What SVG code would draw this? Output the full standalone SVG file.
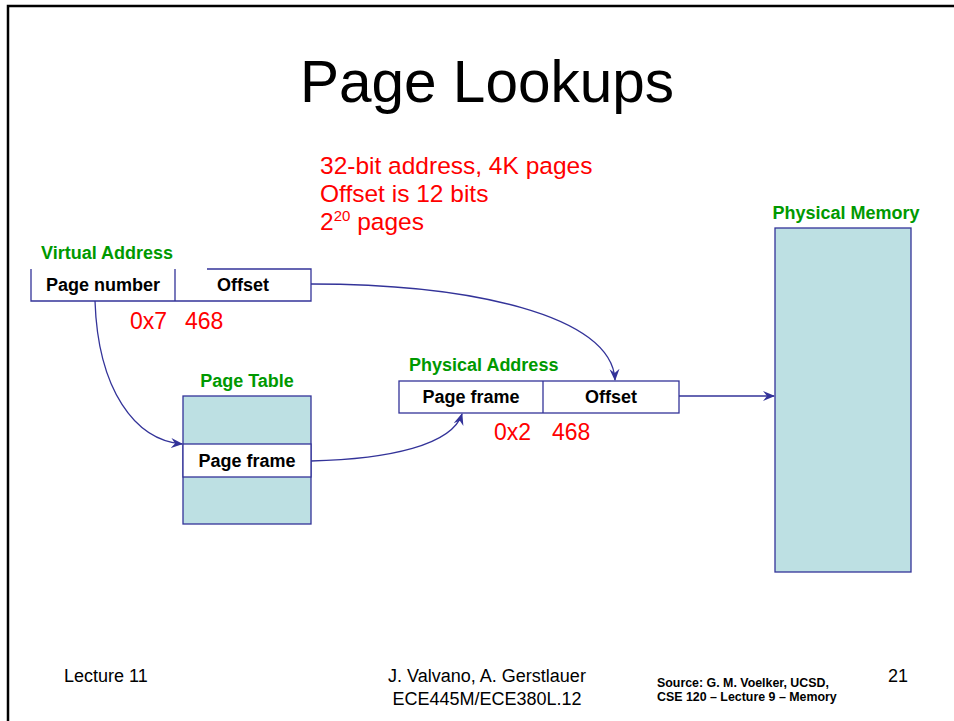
<svg xmlns="http://www.w3.org/2000/svg" width="954" height="721" viewBox="0 0 954 721">
<defs>
<style>
.ln{fill:none;stroke:#333399;stroke-width:1.3}
.cell{fill:#ffffff;stroke:#333399;stroke-width:1.3}
.mem{fill:#bde0e3;stroke:#333399;stroke-width:1.3}
.lbl{font-family:"Liberation Sans",Arial,sans-serif;font-weight:bold;font-size:18px;fill:#000}
.grn{font-family:"Liberation Sans",Arial,sans-serif;font-weight:bold;font-size:18px;fill:#009900}
.red{font-family:"Liberation Sans",Arial,sans-serif;font-size:23px;fill:#ff0000}
.big{font-size:24.5px}
.ft{font-family:"Liberation Sans",Arial,sans-serif;font-size:18px;fill:#000}
.src{font-family:"Liberation Sans",Arial,sans-serif;font-weight:bold;font-size:12.4px;fill:#000}
</style>
<marker id="ah" viewBox="0 0 12 10" refX="11" refY="5" markerWidth="12" markerHeight="10" markerUnits="userSpaceOnUse" orient="auto">
<path d="M0,0 L12,5 L0,10 L4,5 Z" fill="#333399"/>
</marker>
</defs>
<rect width="954" height="721" fill="#ffffff"/>
<path d="M8,721 L8,6 L954,6" fill="none" stroke="#000" stroke-width="2.5"/>
<text x="487" y="102" text-anchor="middle" font-family="'Liberation Sans',Arial,sans-serif" font-size="58.5" fill="#000">Page Lookups</text>
<g id="note">
<text class="red big" x="320" y="174">32-bit address, 4K pages</text>
<text class="red big" x="320" y="202">Offset is 12 bits</text>
<text class="red big" x="320" y="230">2<tspan dy="-9" font-size="15">20</tspan><tspan dy="9"> pages</tspan></text>
</g>
<g id="virtual-address">
<text class="grn" x="41" y="259">Virtual Address</text>
<path class="ln" d="M31,269 L31,301 L311,301 L311,269 L207,269 M175,269 L175,301"/>
<text class="lbl" x="103" y="291" text-anchor="middle">Page number</text>
<text class="lbl" x="243" y="291" text-anchor="middle">Offset</text>
<text class="red" x="130" y="329">0x7</text>
<text class="red" x="185" y="329">468</text>
</g>
<g id="page-table">
<text class="grn" x="247" y="387" text-anchor="middle">Page Table</text>
<rect class="mem" x="183" y="396" width="128" height="128"/>
<rect class="cell" x="183" y="444" width="128" height="33"/>
<text class="lbl" x="247" y="467" text-anchor="middle">Page frame</text>
</g>
<g id="physical-address">
<text class="grn" x="409" y="371">Physical Address</text>
<rect class="cell" x="399" y="381" width="280" height="32"/>
<line class="ln" x1="543" y1="381" x2="543" y2="413"/>
<text class="lbl" x="471" y="403" text-anchor="middle">Page frame</text>
<text class="lbl" x="611" y="403" text-anchor="middle">Offset</text>
<text class="red" x="494" y="440">0x2</text>
<text class="red" x="552" y="440">468</text>
</g>
<g id="physical-memory">
<text class="grn" x="846" y="219" text-anchor="middle">Physical Memory</text>
<rect class="mem" x="775" y="228" width="136" height="344"/>
</g>
<g id="connectors">
<path class="ln" d="M95,301 C98,390 135,440 182,444" marker-end="url(#ah)"/>
<path class="ln" d="M311,461 C390,459 452,445 462,414" marker-end="url(#ah)"/>
<path class="ln" d="M311,284 C470,284 612,315 615,380" marker-end="url(#ah)"/>
<path class="ln" d="M679,396 L774,396" marker-end="url(#ah)"/>
</g>
<g id="footer">
<text class="ft" x="64" y="682">Lecture 11</text>
<text class="ft" x="487" y="682" text-anchor="middle">J. Valvano, A. Gerstlauer</text>
<text class="ft" x="487" y="705" text-anchor="middle">ECE445M/ECE380L.12</text>
<text class="src" x="657" y="687">Source: G. M. Voelker, UCSD,</text>
<text class="src" x="657" y="701">CSE 120 – Lecture 9 – Memory</text>
<text class="ft" x="888" y="682">21</text>
</g>
</svg>
